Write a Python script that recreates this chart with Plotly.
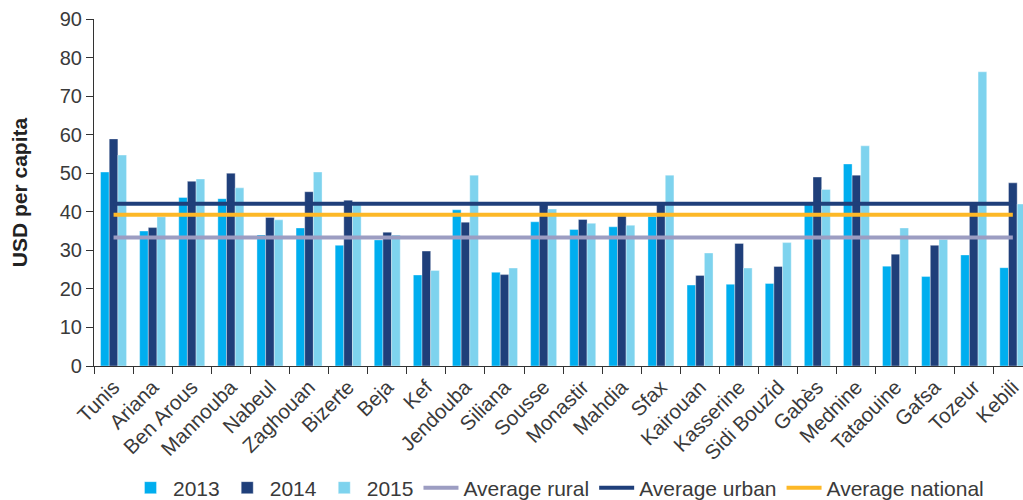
import plotly.graph_objects as go

# Governorates and per-capita spending (USD)
governorates = ["Tunis", "Ariana", "Ben Arous", "Mannouba", "Nabeul", "Zaghouan",
                "Bizerte", "Beja", "Kef", "Jendouba", "Siliana", "Sousse",
                "Monastir", "Mahdia", "Sfax", "Kairouan", "Kasserine",
                "Sidi Bouzid", "Gabès", "Mednine", "Tataouine", "Gafsa",
                "Tozeur", "Kebili"]

values_2013 = [50.3, 35.0, 43.7, 43.4, 34.0, 35.8, 31.3, 32.7, 23.6, 40.5, 24.3, 37.4,
               35.4, 36.1, 38.8, 21.0, 21.2, 21.4, 41.9, 52.4, 25.9, 23.2, 28.8, 25.5]
values_2014 = [58.9, 35.9, 47.9, 50.0, 38.5, 45.2, 43.0, 34.7, 29.8, 37.3, 23.7, 42.0,
               38.0, 38.9, 42.1, 23.5, 31.8, 25.8, 49.0, 49.5, 29.0, 31.3, 42.0, 47.5]
values_2015 = [54.7, 38.7, 48.5, 46.2, 37.9, 50.3, 41.8, 34.0, 24.8, 49.5, 25.4, 40.7,
               37.0, 36.5, 49.5, 29.3, 25.4, 32.0, 45.8, 57.1, 35.8, 32.8, 76.3, 42.0]

avg_rural = 33.3
avg_urban = 42.1
avg_national = 39.2

C2013 = "#00AEEF"
C2014 = "#1F3F7A"
C2015 = "#7ED3EE"
C_RURAL = "#9C9DC2"
C_URBAN = "#1F3F7A"
C_NATIONAL = "#FDB827"

FONT = "Liberation Sans"
TXT = "#3a3a3a"

fig = go.Figure()
for name, vals, col in [("2013", values_2013, C2013),
                        ("2014", values_2014, C2014),
                        ("2015", values_2015, C2015)]:
    fig.add_trace(go.Bar(x=governorates, y=vals, name=name,
                         marker=dict(color=col, line=dict(color="rgba(255,255,255,0.6)", width=0.6))))

for name, val, col in [("Average rural", avg_rural, C_RURAL),
                       ("Average urban", avg_urban, C_URBAN),
                       ("Average national", avg_national, C_NATIONAL)]:
    fig.add_trace(go.Scatter(x=governorates, y=[val] * len(governorates), name=name,
                             mode="lines", line=dict(color=col, width=4)))

fig.update_layout(
    width=1023, height=500,
    margin=dict(l=94, r=0, t=19, b=134),
    paper_bgcolor="white", plot_bgcolor="white",
    barmode="group", bargap=0.335, bargroupgap=0,
    font=dict(family=FONT, color=TXT, size=20),
    showlegend=True,
    legend=dict(orientation="h", x=0.5, xanchor="center",
                yref="container", y=0.024, yanchor="middle",
                font=dict(size=21, color=TXT), itemwidth=35,
                traceorder="normal"),
    xaxis=dict(type="category", range=[-0.5, 23.26], automargin=False,
               showline=True, linecolor="#333", linewidth=1.2,
               ticks="outside", tickson="boundaries", ticklen=7, tickcolor="#333",
               tickangle=-45, tickfont=dict(size=20.5, color=TXT),
               showgrid=False, zeroline=False),
    yaxis=dict(range=[0, 90], tickvals=list(range(0, 91, 10)), automargin=False,
               showline=True, linecolor="#333", linewidth=1.2,
               ticks="outside", ticklen=7, tickcolor="#333",
               tickfont=dict(size=20, color=TXT),
               showgrid=False, zeroline=False,
               title=dict(text="<b>USD per capita</b>", font=dict(size=21, color="#222"),
                          standoff=26)),
)

fig.write_html("out.html")
